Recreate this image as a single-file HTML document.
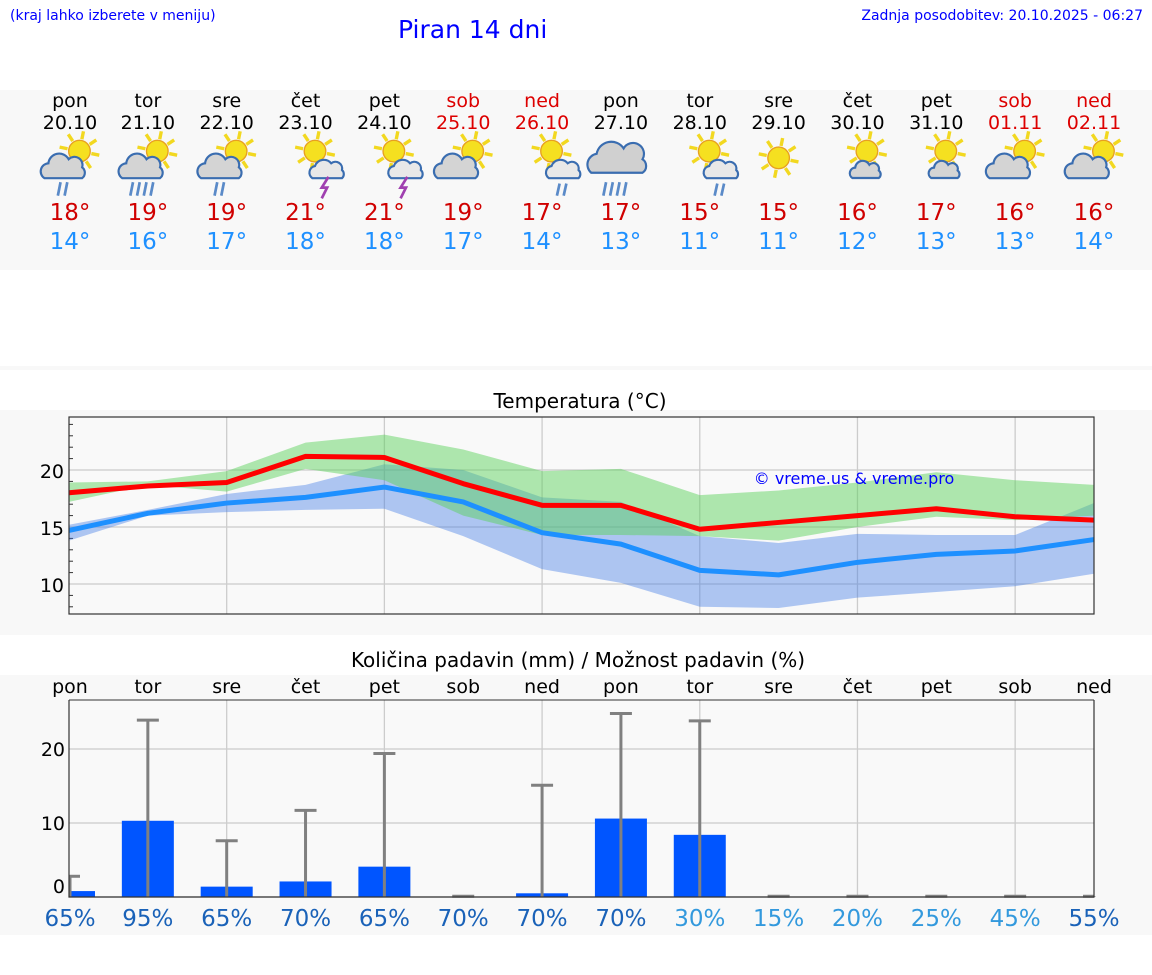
<!DOCTYPE html>
<html><head><meta charset="utf-8"><style>
body{margin:0;width:1152px;height:975px;background:#fff;font-family:"DejaVu Sans","Liberation Sans",sans-serif;overflow:hidden;position:relative}
.t{position:absolute;white-space:nowrap}
</style></head><body>
<div class="t" style="left:10px;top:8px;font-size:14px;color:#00f">(kraj lahko izberete v meniju)</div>
<div class="t" style="left:398px;top:15px;font-size:25px;color:#00f">Piran 14 dni</div>
<div class="t" style="right:9px;top:8px;font-size:14px;color:#00f">Zadnja posodobitev: 20.10.2025 - 06:27</div>
<svg id="s" width="1152" height="975" style="position:absolute;left:0;top:0" font-family="DejaVu Sans, Liberation Sans, sans-serif">
<rect x="0" y="90" width="1152" height="180" fill="#f8f8f8"/>
<rect x="0" y="366" width="1152" height="4" fill="#f8f8f8"/>
<rect x="0" y="410" width="1152" height="225" fill="#f8f8f8"/>
<rect x="0" y="675" width="1152" height="260" fill="#f8f8f8"/>
<text x="580" y="408" font-size="20" text-anchor="middle">Temperatura (°C)</text>
<text x="578" y="667" font-size="20" text-anchor="middle">Količina padavin (mm) / Možnost padavin (%)</text>
<g id="g"></g>
</svg>
<script>
const days=["pon","tor","sre","čet","pet","sob","ned","pon","tor","sre","čet","pet","sob","ned"];
const dates=["20.10","21.10","22.10","23.10","24.10","25.10","26.10","27.10","28.10","29.10","30.10","31.10","01.11","02.11"];
const weekend=[0,0,0,0,0,1,1,0,0,0,0,0,1,1];
const icons=["rain","rain2","rain","storm","storm","pc","rainsun","rain3","rainsun","sun","pcs","pcs","pc","pc"];
const tMax=[18.0,18.6,18.9,21.2,21.1,18.8,16.9,16.9,14.8,15.4,16.0,16.6,15.9,15.6];
const tMin=[14.7,16.2,17.1,17.6,18.5,17.2,14.5,13.5,11.2,10.8,11.9,12.6,12.9,13.9];
const maxHi=[18.9,19.0,19.9,22.4,23.1,21.8,19.9,20.1,17.8,18.2,18.9,19.8,19.1,18.7];
const maxLo=[17.2,18.7,18.1,20.1,19.1,16.0,14.3,14.3,14.2,13.8,15.0,15.9,15.6,16.0];
const minHi=[15.2,16.5,17.9,18.7,20.5,20.0,17.6,17.2,14.2,13.6,14.4,14.3,14.3,17.1];
const minLo=[13.8,16.0,16.3,16.5,16.6,14.2,11.3,10.1,8.0,7.9,8.8,9.3,9.8,10.9];
const dispMax=[18,19,19,21,21,19,17,17,15,15,16,17,16,16];
const dispMin=[14,16,17,18,18,17,14,13,11,11,12,13,13,14];
const precip=[0.8,10.3,1.4,2.1,4.1,0,0.5,10.6,8.4,0,0,0,0,0];
const precipMax=[2.8,23.9,7.6,11.7,19.4,0.1,15.1,24.8,23.8,0.1,0.1,0.1,0.1,0.1];
const prob=[65,95,65,70,65,70,70,70,30,15,20,25,45,55];
const tTicks=[10,15,20];
const pTicks=[0,10,20];

const NS="http://www.w3.org/2000/svg",G=document.getElementById('g');
function el(t,a,p){const e=document.createElementNS(NS,t);for(const k in a)e.setAttribute(k,a[k]);(p||G).appendChild(e);return e;}
const X0=69,X1=1094,step=(X1-X0)/13;
const x=i=>X0+i*step;
const ty=v=>470-(v-20)*11.4;
const py=v=>897-v*7.4;
days.forEach((d,i)=>{
 const cx=Math.min(Math.max(x(i),70),1094);
 let e=el('text',{x:cx,y:107,'font-size':19,'text-anchor':'middle',fill:weekend[i]?'#d00':'#000'});e.textContent=d;
 
 e=el('text',{x:cx,y:129,'font-size':19,'text-anchor':'middle',fill:weekend[i]?'#d00':'#000'});e.textContent=dates[i];
 
 e=el('text',{x:cx,y:220,'font-size':23,'text-anchor':'middle',fill:'#d00000'});e.textContent=dispMax[i]+'°';
 
 e=el('text',{x:cx,y:249,'font-size':23,'text-anchor':'middle',fill:'#1e90ff'});e.textContent=dispMin[i]+'°';
 
 const g=el('g',{transform:`translate(${cx} 166) scale(1.35) translate(${-cx} -166)`});
 
 const ic=icons[i];
 const big=ic==='rain3';
 if(!big){const sx=ic==='sun'?cx:cx+7,sy=ic==='sun'?160:155;
  for(let a=0;a<8;a++){const an=a*Math.PI/4+0.2;el('line',{x1:sx+Math.cos(an)*9,y1:sy+Math.sin(an)*9,x2:sx+Math.cos(an)*15,y2:sy+Math.sin(an)*15,stroke:'#f2d820','stroke-width':2.5},g);}
  el('circle',{cx:sx,cy:sy,r:8,fill:'#f5e020',stroke:'#e8a020','stroke-width':1},g);}
 if(ic==='rain'||ic==='rain2'||ic==='pc'||ic==='pcs'){const ox=ic==='pcs'?cx+6:cx-5,oy=ic==='pcs'?170:168,sc=ic==='pcs'?0.7:1;
  el('path',{d:`M${ox-14*sc} ${oy+7*sc} a${6*sc} ${6*sc} 0 0 1 ${3*sc} ${-11*sc} a${8*sc} ${8*sc} 0 0 1 ${15*sc} ${-3*sc} a${6*sc} ${6*sc} 0 0 1 ${10*sc} ${6*sc} a${5*sc} ${5*sc} 0 0 1 ${0} ${8*sc} z`,fill:'#d4d4d4',stroke:'#3a6db0','stroke-width':1.6},g);}
 if(ic==='storm'||ic==='rainsun'){const ox=cx+15,oy=170;
  el('path',{d:`M${ox-10} ${oy+5} a5 5 0 0 1 2 -9 a7 7 0 0 1 12 -2 a5 5 0 0 1 8 5 a4 4 0 0 1 0 6 z`,fill:'#e8e8e8',stroke:'#3a6db0','stroke-width':1.6},g);
  if(ic==='storm')el('path',{d:`M${ox+2} ${oy+4} l-5 8 h4 l-4 8`,fill:'none',stroke:'#a040b0','stroke-width':2},g);
  else{el('line',{x1:ox-2,y1:oy+9,x2:ox-4,y2:oy+18,stroke:'#5a8ac8','stroke-width':2},g);el('line',{x1:ox+3,y1:oy+9,x2:ox+1,y2:oy+18,stroke:'#5a8ac8','stroke-width':2},g);}}
 if(big){el('path',{d:`M${cx-22} 171 a8 8 0 0 1 4 -14 a11 11 0 0 1 20 -4 a8 8 0 0 1 14 8 a6 6 0 0 1 0 10 z`,fill:'#d0d0d0',stroke:'#3a6db0','stroke-width':1.6},g);}
 if(ic==='rain'||ic==='rain2'||big){const n=ic==='rain'?2:4;for(let k=0;k<n;k++){const rx=cx-(n===2?8:12)+k*5;el('line',{x1:rx+1,y1:178,x2:rx-1,y2:188,stroke:'#5a8ac8','stroke-width':2},g);}}
});
el('rect',{x:X0,y:417,width:X1-X0,height:197,fill:'#f9f9f9'});
for(let v=8;v<=24;v++){el('line',{x1:X0,x2:X0+4,y1:ty(v),y2:ty(v),stroke:'#333','stroke-width':1});}
tTicks.forEach(v=>{el('line',{x1:X0,x2:X1,y1:ty(v),y2:ty(v),stroke:'#ccc','stroke-width':1.3});
 const t=el('text',{x:X0-5,y:ty(v)+8,'font-size':19,'text-anchor':'end'});t.textContent=v;
 });
for(let i=2;i<13;i+=2)el('line',{x1:x(i),x2:x(i),y1:417,y2:614,stroke:'#ccc','stroke-width':1.3});
function band(hi,lo,fill,name){const pts=hi.map((v,i)=>x(i)+','+ty(v)).concat(lo.map((v,i)=>x(i)+','+ty(v)).reverse());
 const p=el('polygon',{points:pts.join(' '),fill:fill});}
band(minHi,minLo,'rgba(60,120,230,0.4)','min-temp-range');
band(maxHi,maxLo,'rgba(90,210,90,0.48)','max-temp-range');
function line(a,c,name){const p=el('polyline',{points:a.map((v,i)=>x(i)+','+ty(v)).join(' '),fill:'none',stroke:c,'stroke-width':5,'stroke-linejoin':'round'});
 }
line(tMin,'#1e90ff','min-temp-line');line(tMax,'#ff0000','max-temp-line');
el('rect',{x:X0,y:417,width:X1-X0,height:197,fill:'none',stroke:'#333','stroke-width':1.2});
let c=el('text',{x:854,y:484,'font-size':16,'text-anchor':'middle',fill:'#00f'});c.textContent='© vreme.us & vreme.pro';

el('rect',{x:X0,y:700,width:X1-X0,height:197,fill:'#f9f9f9'});
pTicks.forEach(v=>{el('line',{x1:X0,x2:X1,y1:py(v),y2:py(v),stroke:'#ccc','stroke-width':1.3});
 const t=el('text',{x:X0-4,y:py(v)+(v===0?-4:7),'font-size':19,'text-anchor':'end'});t.textContent=v;
 });
for(let i=2;i<13;i+=2)el('line',{x1:x(i),x2:x(i),y1:700,y2:897,stroke:'#ccc','stroke-width':1.3});
days.forEach((d,i)=>{
 const cx=Math.min(Math.max(x(i),70),1094);
 let t=el('text',{x:cx,y:693,'font-size':19,'text-anchor':'middle'});t.textContent=d;
 
 const bx=Math.max(x(i)-26,X0+1),bw=Math.min(x(i)+26,X1)-bx;
 const b=el('rect',{x:bx,y:py(precip[i]),width:bw,height:precip[i]*7.4,fill:'#0055ff'});
 
 const ex=Math.max(x(i),X0+1);
 el('line',{x1:ex,x2:ex,y1:py(precipMax[i]),y2:897,stroke:'#808080','stroke-width':3});
 el('line',{x1:Math.max(x(i)-11,X0),x2:Math.min(x(i)+11,X1),y1:py(precipMax[i]),y2:py(precipMax[i]),stroke:'#808080','stroke-width':3});
 t=el('text',{x:cx,y:926,'font-size':23,'text-anchor':'middle',fill:prob[i]>=50?'#1a62b8':'#3399dd'});t.textContent=prob[i]+'%';
 
});
el('polyline',{points:`${X0},700 ${X0},897 ${X1},897 ${X1},700`,fill:'none',stroke:'#333','stroke-width':1.2});
el('line',{x1:X0,x2:X1,y1:700,y2:700,stroke:'#333','stroke-width':1});
</script>
</body></html>
